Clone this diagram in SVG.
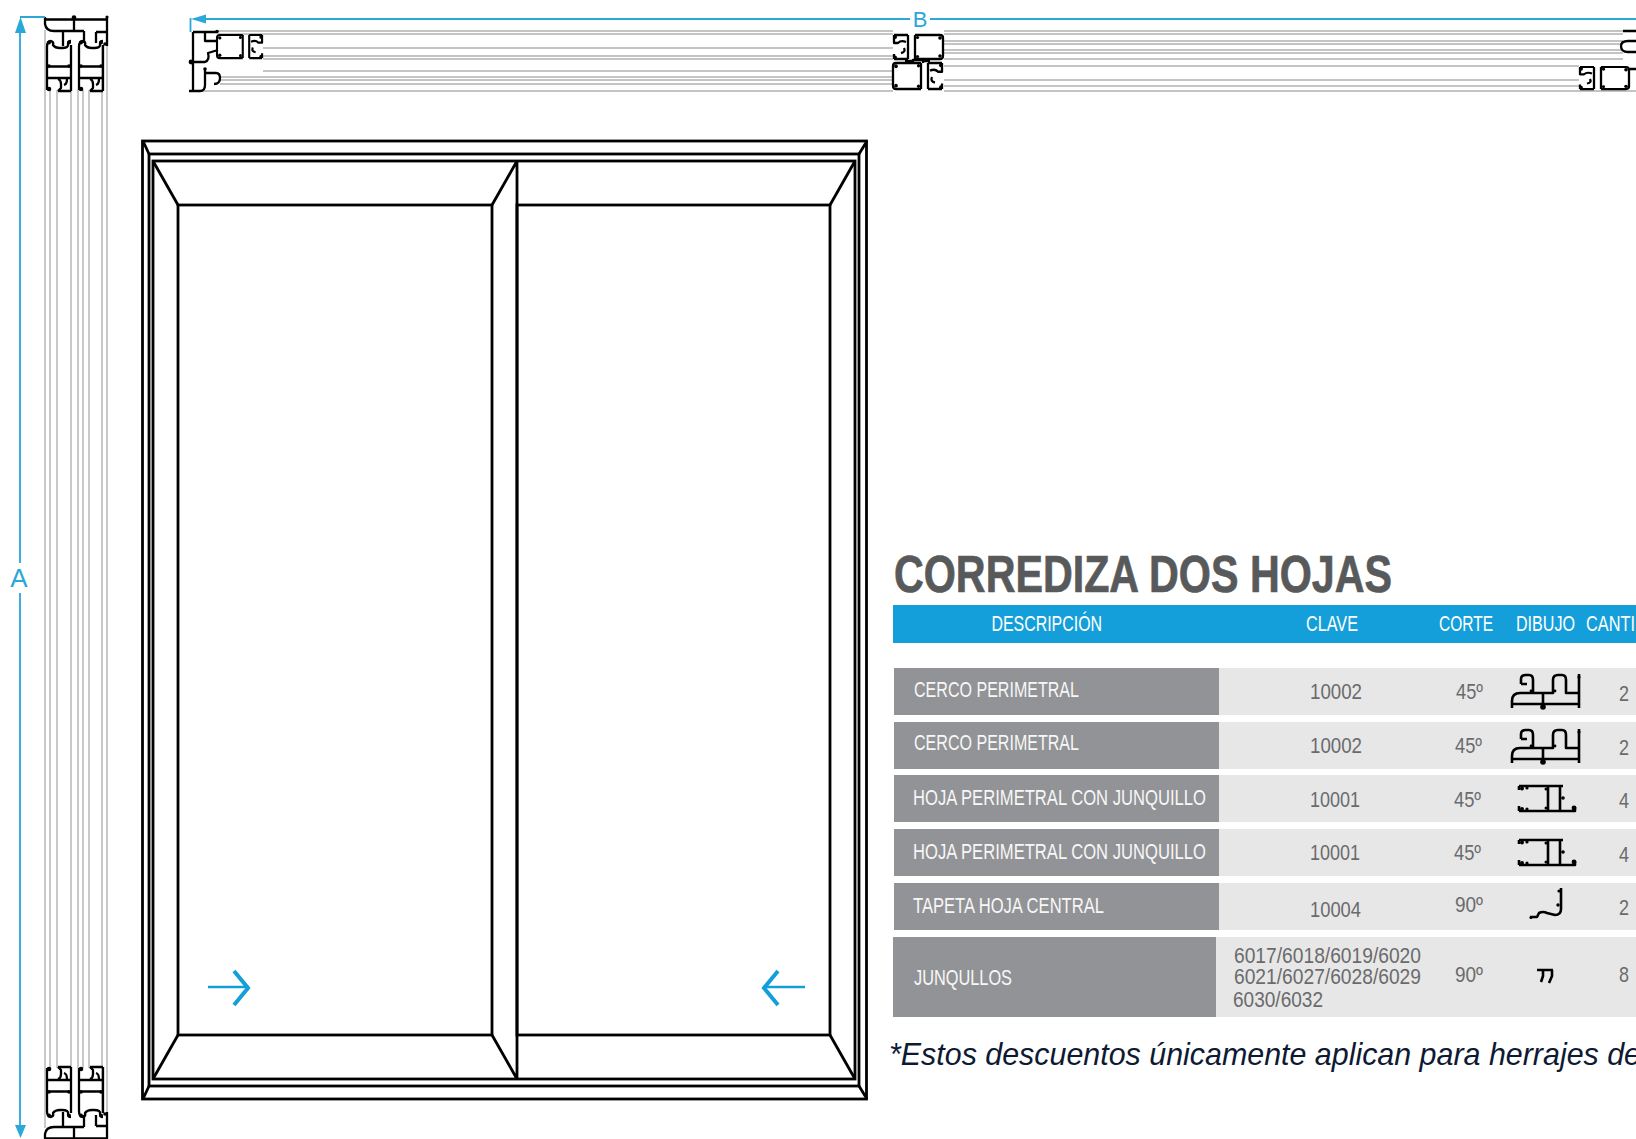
<svg xmlns="http://www.w3.org/2000/svg" xmlns:xlink="http://www.w3.org/1999/xlink" width="1636" height="1139" viewBox="0 0 1636 1139">
<style>
.k{fill:none;stroke:#000;stroke-width:2.8}
.p{fill:none;stroke:#000;stroke-width:2.3;stroke-linejoin:round}
.g{fill:none;stroke:#c4c5c3;stroke-width:1.8}
.b{fill:none;stroke:#2aa8d8;stroke-width:1.8}
.bf{fill:#2aa8d8}
.d{fill:#000}
text{font-family:"Liberation Sans",Arial,sans-serif}
.h{fill:#fff;font-size:22px}
.r{fill:#f7f7f7;font-size:21.500px}
.v{fill:#6a6b6d;font-size:21.500px}
.i{fill:none;stroke:#000;stroke-width:2.600;stroke-linejoin:round}
</style>
<defs>
<g id="sash">
<path class="p" d="M22,0H47Q50,0 50,3V21Q50,24 47,24H22M15,0V24M22,0V24M1,0H15M1,24H15M1,0V8H5Q8,5 13,7M11,13Q13,17 8,18M1,19V24"/>
<circle class="d" cx="24.500" cy="2.500" r="1.600"/><circle class="d" cx="24.500" cy="21.500" r="1.600"/><circle class="d" cx="47" cy="3" r="1.800"/><circle class="d" cx="47" cy="21" r="1.800"/><circle class="d" cx="2" cy="22.500" r="2"/><circle class="d" cx="2" cy="2" r="2"/>
</g>
<g id="vs">
<path class="p" d="M47,47V90M71,45V91M47,78H71M47,66.500H71M47,47Q47,41 51,41Q54,42 53,45Q55,48 60,48H62Q69,48 68,44Q68,41 71,41M58,91H71M58,91L61,88V84Q61,80 58,79M64,85Q67,84 67,79"/>
<circle class="d" cx="49" cy="42.500" r="2"/><circle class="d" cx="69" cy="42.500" r="2"/><circle class="d" cx="49" cy="66" r="1.800"/><circle class="d" cx="69" cy="66" r="1.800"/><circle class="d" cx="49" cy="89" r="2.300"/>
</g>
<g id="vsec">
<path class="p" d="M45,19.500H107M107,16V46M45,17V24Q46,31 54,31H84M63,31V46M74,19V31M84,31V43M96,32V43M96,32H107"/>
<circle class="d" cx="74" cy="17.500" r="2.300"/><circle class="d" cx="105" cy="44" r="1.800"/><circle class="d" cx="107" cy="17" r="1.500"/>
<use xlink:href="#vs" href="#vs"/>
<use xlink:href="#vs" href="#vs" transform="translate(32 0)"/>
</g>
<g id="fr">
<path class="i" d="M1512,708V701Q1512,693 1520,693H1553V680Q1553,675 1558,675H1562Q1566,675 1566,680V693H1579M1521,684V679Q1521,675 1526,675H1529Q1533,675 1533,680V693M1521,684H1527M1579,674V708M1512,704H1579M1543,693V707"/>
<circle class="d" cx="1543" cy="707" r="2.800"/><circle class="d" cx="1531" cy="691" r="1.400"/><circle class="d" cx="1555" cy="691" r="1.400"/><circle class="d" cx="1579" cy="677" r="1.600"/>
</g>
<g id="ho">
<path class="i" d="M1519,786H1563M1519,811H1575V807M1548,786V811M1560,786V811M1519,786V790M1519,806V811"/>
<circle class="d" cx="1522" cy="788.500" r="2"/><circle class="d" cx="1527" cy="788" r="1.600"/><circle class="d" cx="1522" cy="809" r="2"/><circle class="d" cx="1527" cy="809" r="1.600"/><circle class="d" cx="1546" cy="789" r="1.500"/><circle class="d" cx="1546" cy="808" r="1.500"/><circle class="d" cx="1563" cy="798" r="1.800"/><circle class="d" cx="1574" cy="808" r="2.400"/>
</g>
</defs>

<g id="seccion-vertical">
<path class="g" d="M45,30V1128M50,90V1068M57,90V1068M71,90V1068M78,90V1068M83,90V1068M89,90V1068M102,45V1113M107,45V1113"/>
<use xlink:href="#vsec" href="#vsec"/>
<use xlink:href="#vsec" href="#vsec" transform="matrix(1 0 0 -1 0 1158)"/>
</g>

<g id="seccion-horizontal">
<path class="g" d="M218,31H893M218,34H893M263,48H893M263,56H893M263,59H893M263,71H893M220,77H893M220,80H893M220,84H893M195,91H893"/>
<path class="g" d="M944,31H1623M944,34H1623M944,41H1623M944,44H1623M944,50H1623M944,53H1623M944,59H1623M944,66H1579M944,80H1579M944,86H1579M944,91H1636"/>
<path class="p" d="M193,32V91M189,91H200Q205,91 205,85V70M193,32H218M205,32V41H218M193,62H205Q210,60 208,53L218,50M205,73H216Q220,73 220,78Q220,84 214,84"/>
<circle class="d" cx="191" cy="62" r="2.400"/><circle class="d" cx="205" cy="69" r="1.800"/><circle class="d" cx="217" cy="31.500" r="1.800"/>
<use xlink:href="#sash" href="#sash" transform="matrix(-.92 0 0 .96 263 35)"/>
<use xlink:href="#sash" href="#sash" transform="translate(893 35)"/>
<use xlink:href="#sash" href="#sash" transform="matrix(-1 0 0 1.080 943 63)"/>
<path class="p" d="M913,63V60H923V63M905,61H913M923,61H930"/>
<use xlink:href="#sash" href="#sash" transform="matrix(1 0 0 .92 1579 67)"/>
<path class="p" d="M1623,31H1636M1636,41H1628Q1621,41 1621,46Q1621,52 1628,52H1636M1630,69H1636"/>
</g>

<g id="cotas">
<path class="b" d="M20,30V563M20,593V1128M20,17H45"/>
<path class="bf" d="M20.500,17L26,33H15Z M20.500,1138L15,1125H26Z"/>
<text x="19" y="587" text-anchor="middle" font-size="26" fill="#2aa8d8">A</text>
<path class="b" d="M204,19H910M930,19H1636M190.500,18V32"/>
<path class="bf" d="M191,19L206,14.500V23.500Z"/>
<text x="920" y="27" text-anchor="middle" font-size="22" fill="#2aa8d8">B</text>
</g>

<g id="ventana">
<rect class="k" x="142.500" y="141" width="724" height="958"/>
<rect class="k" x="149" y="154" width="710" height="932"/>
<rect class="k" x="153" y="161" width="702" height="918"/>
<rect class="k" x="178" y="205" width="314" height="830"/>
<rect class="k" x="517" y="205" width="313" height="830"/>
<path class="k" d="M517,161V1079M143,141L149,154M867,141L859,154M143,1099L149,1086M867,1099L859,1086M153,161L178,205M492,205L517,161M830,205L855,161M153,1079L178,1035M492,1035L517,1079M830,1035L855,1079"/>
<path fill="none" stroke="#149fda" stroke-width="2.600" d="M208,987H249M805,987H763"/>
<path fill="none" stroke="#149fda" stroke-width="4" d="M234,971L248,988L234,1005M778,971L764,988L778,1005"/>
</g>

<g id="tabla">
<text x="894" y="592" font-size="51" font-weight="700" fill="#58595b" stroke="#58595b" stroke-width=".7" textLength="498" lengthAdjust="spacingAndGlyphs">CORREDIZA DOS HOJAS</text>
<rect x="893" y="605" width="743" height="38" fill="#149fda"/>
<text class="h" x="991.500" y="631" textLength="110.500" lengthAdjust="spacingAndGlyphs">DESCRIPCIÓN</text>
<text class="h" x="1306" y="631" textLength="52" lengthAdjust="spacingAndGlyphs">CLAVE</text>
<text class="h" x="1439" y="631" textLength="54" lengthAdjust="spacingAndGlyphs">CORTE</text>
<text class="h" x="1516" y="631" textLength="59" lengthAdjust="spacingAndGlyphs">DIBUJO</text>
<text class="h" x="1586" y="631" textLength="49" lengthAdjust="spacingAndGlyphs">CANTI</text>

<g fill="#e7e7e7">
<rect x="1219" y="668" width="417" height="47"/><rect x="1219" y="722" width="417" height="47"/><rect x="1219" y="775" width="417" height="47"/><rect x="1219" y="829" width="417" height="47"/><rect x="1219" y="883" width="417" height="47"/><rect x="1216" y="937" width="420" height="80"/>
</g>
<g fill="#929396">
<rect x="894" y="668" width="325" height="47"/><rect x="894" y="722" width="325" height="47"/><rect x="894" y="775" width="325" height="47"/><rect x="894" y="829" width="325" height="47"/><rect x="894" y="883" width="325" height="47"/><rect x="893" y="937" width="323" height="80"/>
</g>

<g id="fila-1">
<text class="r" x="914" y="697" textLength="165" lengthAdjust="spacingAndGlyphs">CERCO PERIMETRAL</text>
<text class="v" x="1310" y="699" textLength="52" lengthAdjust="spacingAndGlyphs">10002</text>
<text class="v" x="1456" y="699" textLength="27" lengthAdjust="spacingAndGlyphs">45º</text>
<use xlink:href="#fr" href="#fr"/>
<text class="v" x="1619" y="701" textLength="10" lengthAdjust="spacingAndGlyphs">2</text>
</g>
<g id="fila-2">
<text class="r" x="914" y="750" textLength="165" lengthAdjust="spacingAndGlyphs">CERCO PERIMETRAL</text>
<text class="v" x="1310" y="753" textLength="52" lengthAdjust="spacingAndGlyphs">10002</text>
<text class="v" x="1455" y="753" textLength="27" lengthAdjust="spacingAndGlyphs">45º</text>
<use xlink:href="#fr" href="#fr" transform="translate(0 55)"/>
<text class="v" x="1619" y="755" textLength="10" lengthAdjust="spacingAndGlyphs">2</text>
</g>
<g id="fila-3">
<text class="r" x="913" y="805" textLength="293" lengthAdjust="spacingAndGlyphs">HOJA PERIMETRAL CON JUNQUILLO</text>
<text class="v" x="1310" y="807" textLength="50" lengthAdjust="spacingAndGlyphs">10001</text>
<text class="v" x="1454" y="807" textLength="27" lengthAdjust="spacingAndGlyphs">45º</text>
<use xlink:href="#ho" href="#ho"/>
<text class="v" x="1619" y="808" textLength="10" lengthAdjust="spacingAndGlyphs">4</text>
</g>
<g id="fila-4">
<text class="r" x="913" y="859" textLength="293" lengthAdjust="spacingAndGlyphs">HOJA PERIMETRAL CON JUNQUILLO</text>
<text class="v" x="1310" y="860" textLength="50" lengthAdjust="spacingAndGlyphs">10001</text>
<text class="v" x="1454" y="860" textLength="27" lengthAdjust="spacingAndGlyphs">45º</text>
<use xlink:href="#ho" href="#ho" transform="translate(0 54)"/>
<text class="v" x="1619" y="862" textLength="10" lengthAdjust="spacingAndGlyphs">4</text>
</g>
<g id="fila-5">
<text class="r" x="913" y="913" textLength="191" lengthAdjust="spacingAndGlyphs">TAPETA HOJA CENTRAL</text>
<text class="v" x="1310" y="917" textLength="51" lengthAdjust="spacingAndGlyphs">10004</text>
<text class="v" x="1455" y="912" textLength="28" lengthAdjust="spacingAndGlyphs">90º</text>
<path class="i" d="M1561,888V909Q1561,915 1555,915L1547,913Q1543,911 1539,913L1537,917H1530"/>
<circle class="d" cx="1558" cy="905" r="1.700"/><circle class="d" cx="1559" cy="891" r="1.600"/><circle class="d" cx="1531" cy="917.500" r="1.600"/>
<text class="v" x="1619" y="915" textLength="10" lengthAdjust="spacingAndGlyphs">2</text>
</g>
<g id="fila-6">
<text class="r" x="914" y="985" textLength="98" lengthAdjust="spacingAndGlyphs">JUNQULLOS</text>
<text class="v" x="1234" y="963" textLength="187" lengthAdjust="spacingAndGlyphs">6017/6018/6019/6020</text>
<text class="v" x="1234" y="984" textLength="187" lengthAdjust="spacingAndGlyphs">6021/6027/6028/6029</text>
<text class="v" x="1233" y="1007" textLength="90" lengthAdjust="spacingAndGlyphs">6030/6032</text>
<text class="v" x="1455" y="982" textLength="28" lengthAdjust="spacingAndGlyphs">90º</text>
<path class="i" d="M1537,970H1553M1543,970V976L1541,982M1552,970V976L1549,983"/>
<text class="v" x="1619" y="982" textLength="10" lengthAdjust="spacingAndGlyphs">8</text>
</g>
<text x="889" y="1065" font-size="32" font-style="italic" fill="#0e1a33" textLength="752" lengthAdjust="spacingAndGlyphs">*Estos descuentos únicamente aplican para herrajes de</text>
</g>
</svg>
